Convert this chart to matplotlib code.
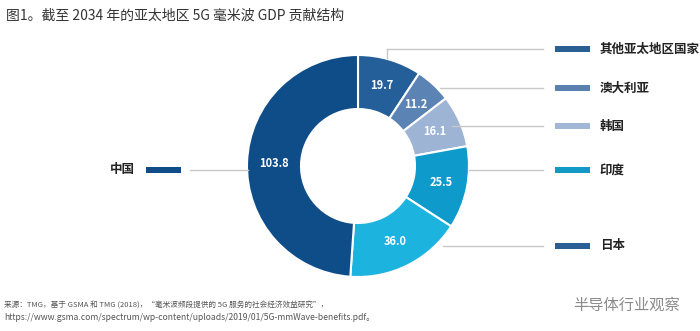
import matplotlib
matplotlib.use("Agg")
import matplotlib.pyplot as plt
from matplotlib.patches import Rectangle

plt.rcParams['font.family'] = ['Noto Sans CJK SC', 'DejaVu Sans']

# data, clockwise from 12 o'clock
regions = ["其他亚太地区国家", "澳大利亚", "韩国", "印度", "日本", "中国"]
values = [19.7, 11.2, 16.1, 25.5, 36.0, 103.8]
wedge_colors = ["#245f99", "#5b84b5", "#9db4d5", "#0e9bcb", "#1db3df", "#0f4d89"]
legend_colors = ["#2a5f94", "#5a80b0", "#a2b6d6", "#1399c6", "#2a5f94", "#0f4d89"]

title = "图1。截至 2034 年的亚太地区 5G 毫米波 GDP 贡献结构"
source1 = "来源：TMG，基于 GSMA 和 TMG (2018)，“毫米波频段提供的 5G 服务的社会经济效益研究”，"
source2 = "https://www.gsma.com/spectrum/wp-content/uploads/2019/01/5G-mmWave-benefits.pdf。"
watermark = "半导体行业观察"

W, H = 700, 331
fig = plt.figure(figsize=(7, 3.31), dpi=100)
ax = fig.add_axes([0, 0, 1, 1])

cx, cy = 358, H - 166
R, r_in = 111, 57
wedges, _, autotexts = ax.pie(values, colors=wedge_colors, startangle=90, counterclock=False,
                              center=(cx, cy), radius=R, autopct="%1.1f", pctdistance=0.76,
                              wedgeprops=dict(width=R - r_in, edgecolor="white", linewidth=1.5),
                              textprops=dict(color="white", fontsize=8, fontweight="bold"),
                              frame=True)
for t, v in zip(autotexts, values):
    t.set_text(f"{v:.1f}")

ax.set_xlim(0, W)
ax.set_ylim(0, H)
ax.set_aspect("equal")
ax.axis("off")

line_c = "#c8c8c8"
# legend rows on the right: (y, line start x)
rows_right = [(49, 387), (88, 440), (126, 452), (170, 469), (246, 443)]
for i, (yp, x0) in enumerate(rows_right):
    y = H - yp
    ax.plot([x0, 543], [y, y], color=line_c, lw=1)
    ax.add_patch(Rectangle((555, y - 3), 35, 6, color=legend_colors[i], lw=0))
    ax.text(600, y, regions[i], fontsize=9, fontweight="bold", color="#222222",
            ha="left", va="center")
# small vertical tick for the first leader
ax.plot([387, 387], [H - 49, H - 58], color=line_c, lw=1)

# China on the left
y = H - 170
ax.plot([190, 248], [y, y], color=line_c, lw=1)
ax.add_patch(Rectangle((146, y - 3), 35, 6, color=legend_colors[5], lw=0))
ax.text(135, y, regions[5], fontsize=9, fontweight="bold", color="#222222",
        ha="right", va="center")

ax.text(6, H - 16, title, fontsize=10, color="#333333", ha="left", va="center")
ax.text(4, H - 306, source1, fontsize=5.5, color="#555555", ha="left", va="center")
ax.text(4, H - 318, source2, fontsize=6.2, color="#555555", ha="left", va="center")
ax.text(680, H - 305, watermark, fontsize=11, color="#8a8a8a", ha="right", va="center")

fig.savefig("out.png", dpi=100, facecolor="white")
